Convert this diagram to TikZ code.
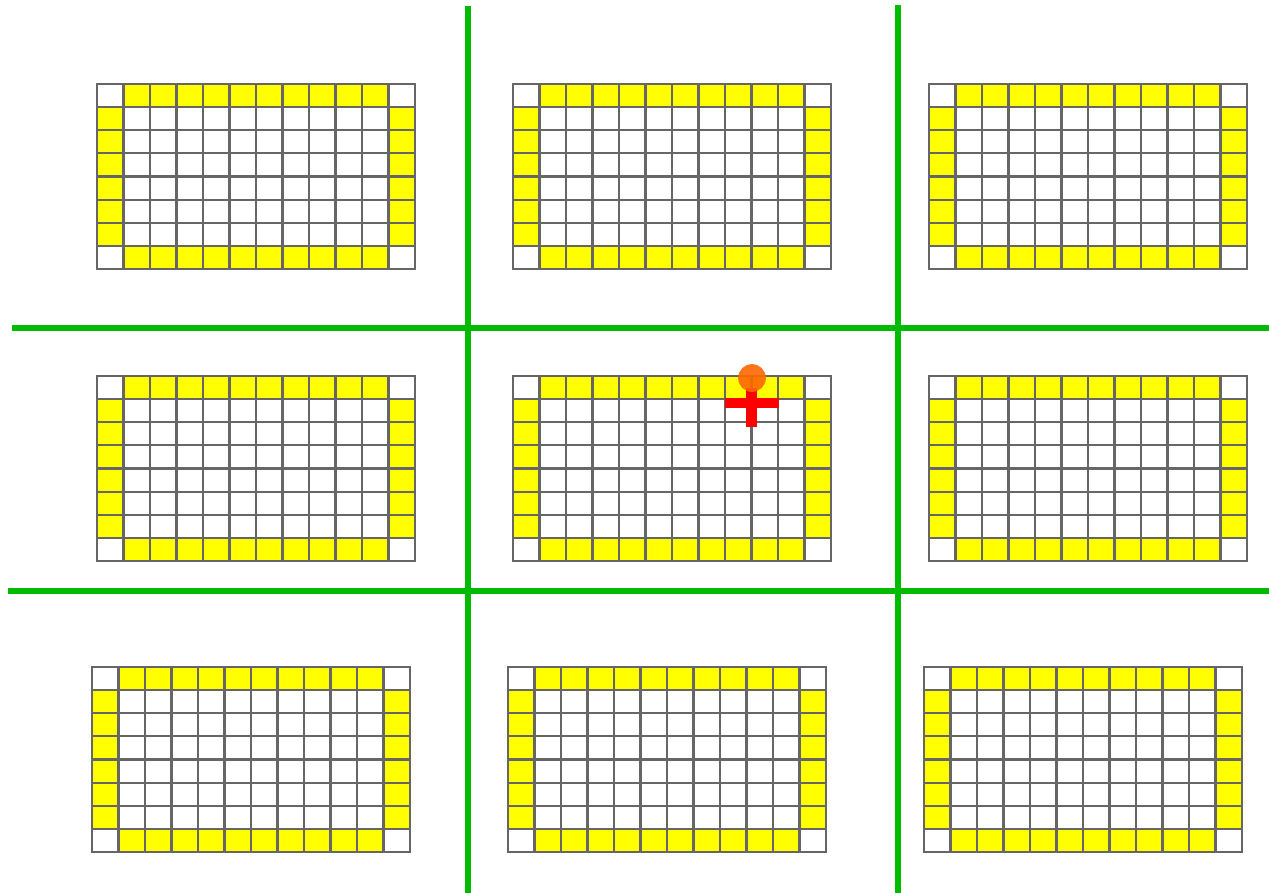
\documentclass[tikz,border=0pt]{standalone}
\usetikzlibrary{calc}
\definecolor{gridline}{HTML}{666666}
\definecolor{cellyellow}{HTML}{FFFF00}
\definecolor{divider}{HTML}{00BB00}
\definecolor{marker}{HTML}{FF6600}
\definecolor{crossred}{HTML}{FF0000}

\tikzset{
  cellline/.style={draw=gridline, line width=1.2pt, line cap=rect},
  divline/.style={draw=divider, line width=2.9pt}
}

\def\cw{26.5}
\def\ch{23.125}

% one 12x8 block, top-left corner given in px
\newcommand{\cellblock}[2]{%
  \begin{scope}[shift={(#1,#2)}]
    \foreach \i in {1,...,10} {
      \fill[cellyellow] (\i*\cw,0) rectangle ++(\cw,\ch);
      \fill[cellyellow] (\i*\cw,7*\ch) rectangle ++(\cw,\ch);
    }
    \foreach \j in {1,...,6} {
      \fill[cellyellow] (0,\j*\ch) rectangle ++(\cw,\ch);
      \fill[cellyellow] (11*\cw,\j*\ch) rectangle ++(\cw,\ch);
    }
    \foreach \i in {0,...,12} \draw[cellline] (\i*\cw,0) -- (\i*\cw,8*\ch);
    \foreach \j in {0,...,8} \draw[cellline] (0,\j*\ch) -- (12*\cw,\j*\ch);
  \end{scope}}

\begin{document}
\begin{tikzpicture}[x=0.02cm, y=-0.02cm]
  \useasboundingbox (0,0) rectangle (1269,893);
  % blocks
  \foreach \bx in {97,513,929} {
    \cellblock{\bx}{84}
    \cellblock{\bx}{376}
  }
  \foreach \bx in {92,508,924} \cellblock{\bx}{667}
  % dividers
  \draw[divline] (468,6) -- (468,893);
  \draw[divline] (898,5) -- (898,893);
  \draw[divline] (12,328) -- (1269,328);
  \draw[divline] (8,591) -- (1269,591);
  % marker
  \coordinate (pin) at (752,378);
  \fill[crossred] (725,398) rectangle (779,408);
  \fill[crossred] (746,388) rectangle (757,427);
  \fill[marker, opacity=0.9] (pin) circle (7.9pt);
\end{tikzpicture}
\end{document}
